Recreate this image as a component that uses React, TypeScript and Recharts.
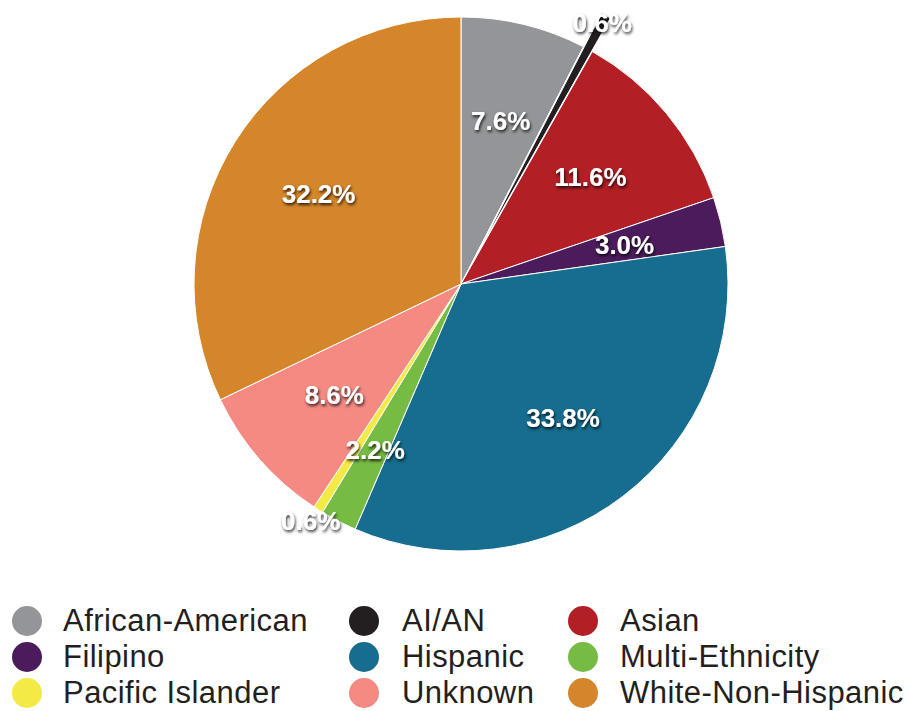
import React from "react";
import { PieChart, Pie, Cell, Legend } from "recharts";

const groups = [
  "African-American",
  "AI/AN",
  "Asian",
  "Filipino",
  "Hispanic",
  "Multi-Ethnicity",
  "Pacific Islander",
  "Unknown",
  "White-Non-Hispanic",
];
const shares = [7.6, 0.6, 11.6, 3.0, 33.8, 2.2, 0.6, 8.6, 32.2];
const colors = [
  "#939598",
  "#231f20",
  "#b21f24",
  "#4b1b5b",
  "#166d8f",
  "#76bb43",
  "#f4ea45",
  "#f48a82",
  "#d5862a",
];
const EXPLODED = "AI/AN";

const data = groups.map((name, i) => ({ name, value: shares[i] }));

const CX = 461;
const CY = 284;
const R = 267;
const PULL = 38;
const RADIAN = Math.PI / 180;

// direction of the pulled-out slice, from its mid angle
const total = shares.reduce((s, v) => s + v, 0);
const exIdx = groups.indexOf(EXPLODED);
const before = shares.slice(0, exIdx).reduce((s, v) => s + v, 0);
const exMid = ((before + shares[exIdx] / 2) / total) * 2 * Math.PI;
const exCx = CX + PULL * Math.sin(exMid);
const exCy = CY - PULL * Math.cos(exMid);

const labelStyle = {
  fill: "#fff",
  fontSize: 26,
  fontWeight: 700,
  fontFamily: "'Liberation Sans', Arial, sans-serif",
  filter: "url(#lblShadow)",
};

function labelAt(cx: number, cy: number, midAngle: number, r: number, value: number, key: string) {
  const x = cx + r * Math.cos(-midAngle * RADIAN);
  const y = cy + r * Math.sin(-midAngle * RADIAN);
  return (
    <text key={key} x={x} y={y} textAnchor="middle" dominantBaseline="central" style={labelStyle}>
      {value.toFixed(1)}%
    </text>
  );
}

const mainLabel = (p: any) => {
  const { cx, cy, midAngle, outerRadius, value, name, index } = p;
  if (name === EXPLODED) return null;
  let r = outerRadius * 0.63;
  if (value < 1) r = outerRadius + 14;
  else if (value < 2.5) r = outerRadius * 0.7;
  return labelAt(cx, cy, midAngle, r, value, "m" + index);
};

const pulledLabel = (p: any) => {
  const { cx, cy, midAngle, outerRadius, value, name, index } = p;
  if (name !== EXPLODED) return null;
  return labelAt(cx, cy, midAngle, outerRadius - 8, value, "p" + index);
};

const renderLegend = () => (
  <div style={{ position: "relative", width: 910, height: 110 }}>
    {groups.map((g, i) => {
      const col = i % 3;
      const row = Math.floor(i / 3);
      const dotX = [27, 364, 583][col];
      const textX = [63, 402, 620][col];
      const y = 621 - 595 + row * 36;
      return (
        <div key={g}>
          <div
            style={{
              position: "absolute",
              left: dotX - 15,
              top: y - 15,
              width: 30,
              height: 30,
              borderRadius: "50%",
              background: colors[i],
            }}
          />
          <div
            style={{
              position: "absolute",
              left: textX,
              top: y - 18,
              height: 36,
              lineHeight: "36px",
              fontSize: 31,
              letterSpacing: 0.45,
              color: "#231f20",
              fontFamily: "'Liberation Sans', Arial, sans-serif",
              whiteSpace: "nowrap",
            }}
          >
            {g}
          </div>
        </div>
      );
    })}
  </div>
);

export default function App() {
  return (
    <div style={{ position: "absolute", left: 0, top: 0, width: 910, height: 711, background: "#fff" }}>
      <svg width={0} height={0} style={{ position: "absolute" }}>
        <defs>
          <filter id="lblShadow" x="-30%" y="-50%" width="160%" height="200%">
            <feDropShadow dx="1" dy="2" stdDeviation="1.8" floodColor="#000" floodOpacity="0.8" />
          </filter>
        </defs>
      </svg>
      <PieChart width={910} height={711} margin={{ top: 0, right: 0, bottom: 0, left: 0 }}>
        <Pie
          data={data}
          dataKey="value"
          nameKey="name"
          cx={CX}
          cy={CY}
          outerRadius={R}
          startAngle={90}
          endAngle={-270}
          stroke="#fff"
          strokeWidth={1}
          label={mainLabel}
          labelLine={false}
          isAnimationActive={false}
        >
          {data.map((d, i) => (
            <Cell key={d.name} fill={d.name === EXPLODED ? "#fff" : colors[i]} />
          ))}
        </Pie>
        <Pie
          data={data}
          dataKey="value"
          nameKey="name"
          cx={exCx}
          cy={exCy}
          outerRadius={R}
          startAngle={90}
          endAngle={-270}
          label={pulledLabel}
          labelLine={false}
          isAnimationActive={false}
          legendType="none"
        >
          {data.map((d, i) => (
            <Cell
              key={d.name}
              fill={d.name === EXPLODED ? colors[i] : "transparent"}
              stroke={d.name === EXPLODED ? "#fff" : "none"}
              strokeWidth={1}
            />
          ))}
        </Pie>
        <Legend
          content={renderLegend}
          wrapperStyle={{ position: "absolute", left: 0, top: 595, width: 910, height: 110 }}
        />
      </PieChart>
    </div>
  );
}
